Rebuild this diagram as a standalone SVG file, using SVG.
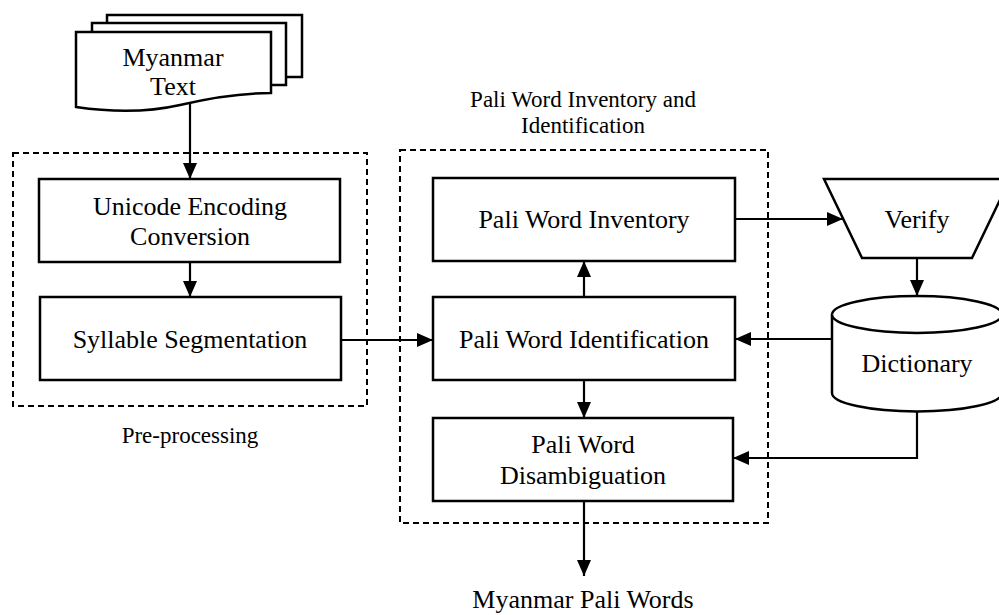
<svg xmlns="http://www.w3.org/2000/svg" width="999" height="615" viewBox="0 0 999 615">
<defs>
<marker id="ah" markerWidth="16" markerHeight="14" refX="16" refY="7" orient="auto" markerUnits="userSpaceOnUse">
<path d="M0,0 L16,7 L0,14 Z" fill="#000"/>
</marker>
<style>
.box{fill:#fff;stroke:#000;stroke-width:2.5}
.grp{fill:none;stroke:#000;stroke-width:2;stroke-dasharray:6 4}
.t{font-family:"Liberation Serif","Times New Roman",serif;font-size:26px;fill:#000;text-anchor:middle}
.l{font-family:"Liberation Serif","Times New Roman",serif;font-size:23px;fill:#000;text-anchor:middle}
.c{fill:none;stroke:#000;stroke-width:2.2}
</style>
</defs>
<rect width="999" height="615" fill="#fff"/>

<g id="preprocessing-group">
<rect class="grp" x="13" y="153" width="354" height="253"/>
<text class="l" x="190" y="443">Pre-processing</text>
</g>
<g id="pali-group">
<rect class="grp" x="400" y="150" width="368" height="373"/>
<text class="l" x="583" y="107">Pali Word Inventory and</text>
<text class="l" x="583" y="133">Identification</text>
</g>

<g id="myanmar-text">
<path class="box" d="M107,15 H302 V77 H107 Z"/>
<path class="box" d="M92,23 H286 V85 H92 Z"/>
<path class="box" d="M76,32 H271 V93 C235,93 205,99 180,105 C145,113 110,112 76,107 Z"/>
<text class="t" x="173" y="66">Myanmar</text>
<text class="t" x="173" y="95">Text</text>
</g>

<g id="unicode">
<rect class="box" x="39" y="179" width="301" height="83"/>
<text class="t" x="190" y="215">Unicode Encoding</text>
<text class="t" x="190" y="245">Conversion</text>
</g>

<g id="syllable">
<rect class="box" x="40" y="297" width="301" height="83"/>
<text class="t" x="190" y="348">Syllable Segmentation</text>
</g>

<g id="inventory">
<rect class="box" x="433" y="178" width="302" height="83"/>
<text class="t" x="584" y="228">Pali Word Inventory</text>
</g>

<g id="identification">
<rect class="box" x="433" y="297" width="302" height="83"/>
<text class="t" x="584" y="348">Pali Word Identification</text>
</g>

<g id="disambiguation">
<rect class="box" x="433" y="418" width="300" height="83"/>
<text class="t" x="583" y="453">Pali Word</text>
<text class="t" x="583" y="484">Disambiguation</text>
</g>

<g id="verify">
<path class="box" d="M824,179 H1010 L972,258 H862 Z"/>
<text class="t" x="917" y="228">Verify</text>
</g>

<g id="dictionary">
<path class="box" d="M832,314.5 V393 A85,18.5 0 0 0 1002,393 V314.5 A85,18.5 0 0 0 832,314.5 Z"/>
<path class="box" d="M832,314.5 A85,18.5 0 0 0 1002,314.5" fill="none"/>
<text class="t" x="917" y="372">Dictionary</text>
</g>

<g id="output-label">
<text class="t" x="583" y="608">Myanmar Pali Words</text>
</g>

<g id="connectors">
<line class="c" x1="190" y1="103" x2="190" y2="179" marker-end="url(#ah)"/>
<line class="c" x1="190" y1="262" x2="190" y2="297" marker-end="url(#ah)"/>
<line class="c" x1="341" y1="340" x2="433" y2="340" marker-end="url(#ah)"/>
<line class="c" x1="584" y1="297" x2="584" y2="261" marker-end="url(#ah)"/>
<line class="c" x1="584" y1="380" x2="584" y2="418" marker-end="url(#ah)"/>
<line class="c" x1="584" y1="501" x2="584" y2="576" marker-end="url(#ah)"/>
<line class="c" x1="735" y1="219" x2="843" y2="219" marker-end="url(#ah)"/>
<line class="c" x1="917" y1="258" x2="917" y2="296" marker-end="url(#ah)"/>
<line class="c" x1="832" y1="339" x2="735" y2="339" marker-end="url(#ah)"/>
<polyline class="c" points="917,411.5 917,458 733,458" marker-end="url(#ah)"/>
</g>
</svg>
